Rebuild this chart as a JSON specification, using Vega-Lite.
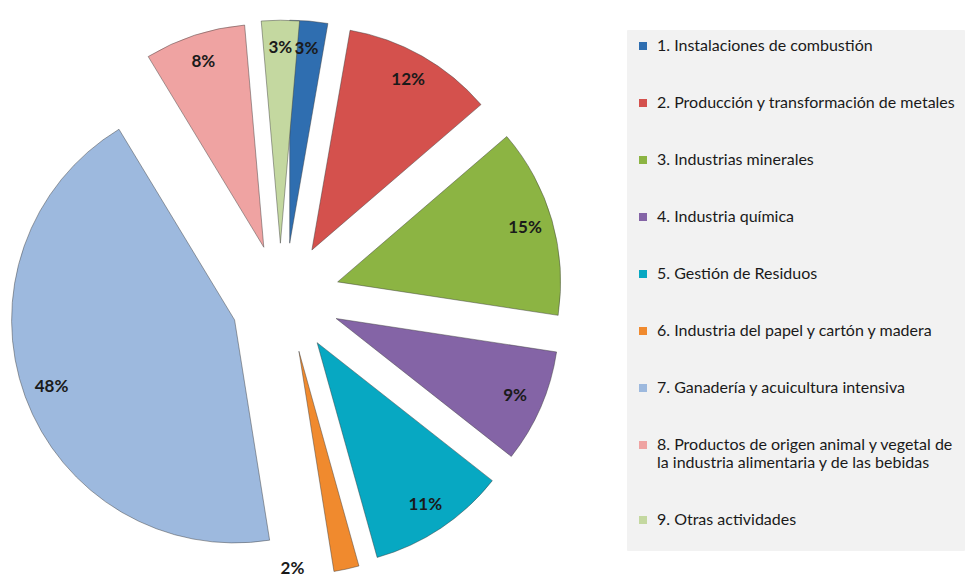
{
  "$schema": "https://vega.github.io/schema/vega-lite/v6.json",
  "width": 580,
  "height": 580,
  "padding": {"left": 0, "top": 10, "right": 0, "bottom": 0},
  "autosize": {"type": "pad"},
  "background": "#ffffff",
  "config": {"view": {"stroke": null}},
  "data": {
    "values": [
      {"idx": 1, "category": "1. Instalaciones de combustión", "share": 0.03},
      {"idx": 2, "category": "2. Producción y transformación de metales", "share": 0.12},
      {"idx": 3, "category": "3. Industrias minerales", "share": 0.15},
      {"idx": 4, "category": "4. Industria química", "share": 0.09},
      {"idx": 5, "category": "5. Gestión de Residuos", "share": 0.11},
      {"idx": 6, "category": "6. Industria del papel y cartón y madera", "share": 0.02},
      {"idx": 7, "category": "7. Ganadería y acuicultura intensiva", "share": 0.48},
      {"idx": 8, "category": "8. Productos de origen animal y vegetal de la industria alimentaria y de las bebidas", "share": 0.08},
      {"idx": 9, "category": "9. Otras actividades", "share": 0.03}
    ]
  },
  "transform": [
    {"stack": "share", "groupby": [], "sort": [{"field": "idx", "order": "ascending"}], "as": ["s0", "s1"]},
    {"joinaggregate": [{"op": "sum", "field": "share", "as": "total"}]},
    {"calculate": "sin(PI * (datum.s0 + datum.s1) / datum.total)", "as": "ex"},
    {"calculate": "cos(PI * (datum.s0 + datum.s1) / datum.total)", "as": "ey"},
    {"calculate": "(datum.s0 + datum.s1) / 2", "as": "smid"}
  ],
  "encoding": {
    "x": {"field": "ex", "type": "quantitative", "scale": {"domain": [-5.18, 5.36], "nice": false, "zero": false}, "axis": null},
    "y": {"field": "ey", "type": "quantitative", "scale": {"domain": [-5.309, 5.236], "nice": false, "zero": false}, "axis": null}
  },
  "layer": [
    {
      "mark": {"type": "arc", "outerRadius": 223, "stroke": "#3a3a3a", "strokeOpacity": 0.45, "strokeWidth": 1},
      "encoding": {
        "theta": {"field": "s0", "type": "quantitative", "scale": {"nice": false, "zero": true}},
        "theta2": {"field": "s1"},
        "color": {
          "field": "category",
          "type": "nominal",
          "scale": {"range": ["#2F6EB0", "#D4514D", "#8CB443", "#8464A6", "#07A8C2", "#F08A2E", "#9DB9DE", "#EFA3A2", "#C4D8A0"]},
          "legend": {
            "title": " ",
            "titleOrient": "bottom",
            "titleFontSize": 10,
            "titlePadding": 4,
            "orient": "none",
            "legendX": 627,
            "legendY": 20,
            "padding": 8,
            "fillColor": "#f2f2f2",
            "strokeColor": "#f2f2f2",
            "symbolType": "square",
            "symbolSize": 64,
            "symbolStrokeWidth": 0,
            "labelFont": "Lato",
            "labelFontSize": 16,
            "labelColor": "#1a1a1a",
            "labelLimit": 400,
            "labelOffset": 6,
            "labelLineHeight": 16,
            "rowPadding": 41,
            "labelExpr": "split(replace(datum.label, ' de la ', ' de|la '), '|')"
          }
        }
      }
    },
    {
      "transform": [{"filter": "datum.share >= 0.03"}],
      "mark": {"type": "text", "radius": 195, "font": "Lato", "fontWeight": "bold", "fontSize": 17, "color": "#1a1a1a"},
      "encoding": {
        "theta": {"field": "smid", "type": "quantitative", "scale": {"nice": false, "zero": true}},
        "text": {"field": "share", "type": "quantitative", "format": ".0%"}
      }
    },
    {
      "transform": [{"filter": "datum.share < 0.03"}],
      "mark": {"type": "text", "radius": 218, "thetaOffset": 0.245, "font": "Lato", "fontWeight": "bold", "fontSize": 17, "color": "#1a1a1a"},
      "encoding": {
        "theta": {"field": "smid", "type": "quantitative", "scale": {"nice": false, "zero": true}},
        "text": {"field": "share", "type": "quantitative", "format": ".0%"}
      }
    }
  ]
}
